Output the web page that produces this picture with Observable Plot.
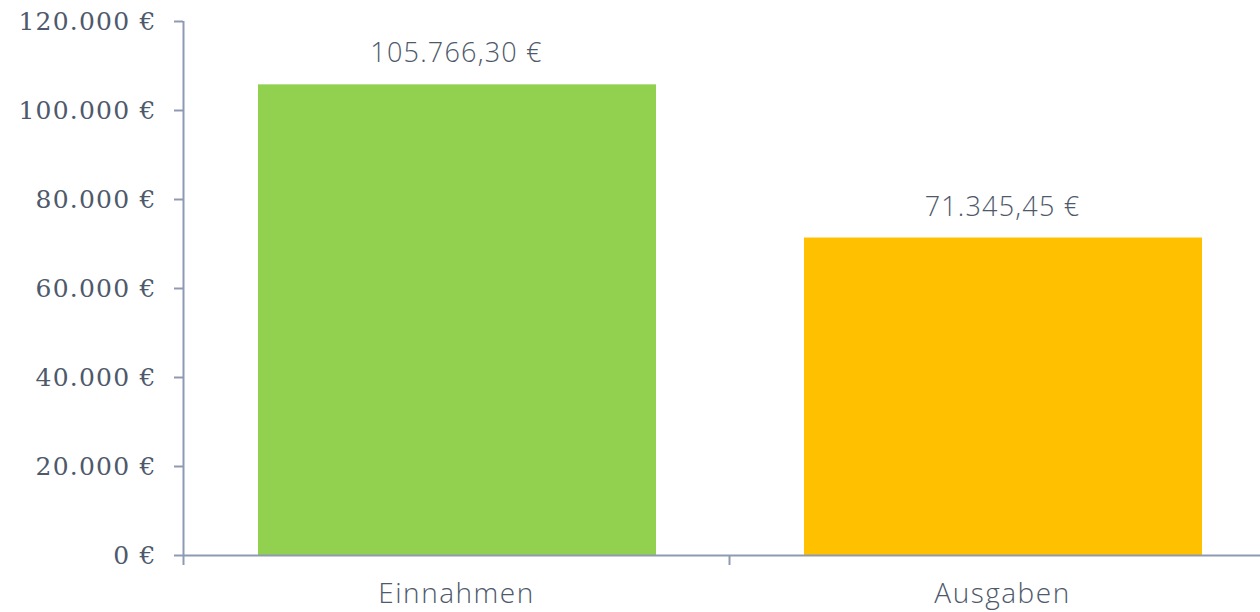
<!DOCTYPE html>
<html>
<head>
<meta charset="utf-8">
<script src="https://cdn.jsdelivr.net/npm/d3@7"></script>
<script src="https://cdn.jsdelivr.net/npm/@observablehq/plot@0.6"></script>
<style>
  html, body { margin: 0; padding: 0; background: #fff; overflow: hidden; width: 1260px; height: 612px; }
  .cat text { letter-spacing: 1.5px; }
  .val text { letter-spacing: 1.2px; }
  .yax text { letter-spacing: 1.2px; }
</style>
</head>
<body>
<div id="chart"></div>
<script>
const categories = ["Einnahmen", "Ausgaben"];
const values = [105766.30, 71345.45];
const colors = ["#92D050", "#FFC000"];
const yTicks = [0, 20000, 40000, 60000, 80000, 100000, 120000];

const de = d3.formatLocale({decimal: ",", thousands: ".", grouping: [3], currency: ["", " €"]});
const fmtTick = de.format(",.0f");
const fmtVal = de.format(",.2f");

const data = categories.map((c, i) => ({category: c, value: values[i], color: colors[i], i}));

const textColor = "#4E596B";
const axisColor = "#8E9AB2";
const sans = "'Open Sans', Lato, sans-serif";

const chart = Plot.plot({
  width: 1275,
  height: 612,
  marginLeft: 183,
  marginRight: 0,
  marginTop: 21,
  marginBottom: 57,
  style: {background: "#fff", overflow: "visible", maxWidth: "none"},
  x: {type: "linear", domain: [0, categories.length], axis: null},
  y: {domain: [0, 120000], axis: null},
  marks: [
    Plot.rectY(data, {x1: d => d.i, x2: d => d.i + 1, y: "value", fill: "color", insetLeft: 75, insetRight: 73}),
    Plot.ruleY([0], {stroke: axisColor, strokeWidth: 2}),
    Plot.ruleX([0], {y1: 0, y2: 120000, stroke: axisColor, strokeWidth: 2}),
    Plot.axisY({ticks: yTicks, tickSize: 9, tickPadding: 18, stroke: axisColor, strokeWidth: 2,
      tickFormat: d => fmtTick(d) + " €", fontSize: 25, fill: textColor, label: null,
      fontFamily: "'DejaVu Serif', serif", className: "yax"}),
    Plot.axisX({ticks: d3.range(categories.length + 1), tickSize: 10, tickFormat: () => "",
      stroke: axisColor, strokeWidth: 2, label: null}),
    Plot.text(data, {x: d => d.i + 0.5, y: 0, text: "category", dy: 39, fontSize: 28,
      fill: textColor, fontFamily: sans, fontWeight: 300, className: "cat"}),
    Plot.text(data, {x: d => d.i + 0.5, y: "value", text: d => fmtVal(d.value) + " €", dy: -31,
      fontSize: 27, fill: textColor, fontFamily: sans, fontWeight: 300, className: "val"})
  ]
});
document.getElementById("chart").appendChild(chart);
</script>
</body>
</html>
